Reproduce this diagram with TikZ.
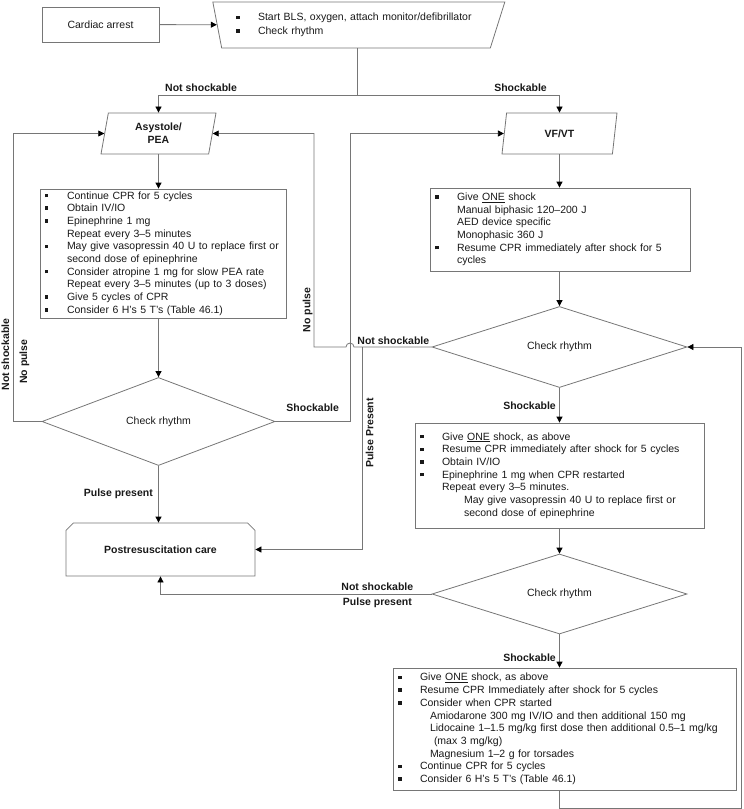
\documentclass[tikz,border=0pt]{standalone}
\usepackage{fontspec}
\setmainfont{Liberation Sans}
\usepackage{tikz}
\usetikzlibrary{
    shapes.geometric,
    shapes.misc,
    arrows.meta,
    positioning,
    calc
}
\definecolor{Cline}{RGB}{118, 118, 118}
\definecolor{Ctext}{RGB}{25, 25, 25}
\newcommand{\bul}{\makebox[22pt][l]{\rule[1.8pt]{3.5pt}{3.5pt}}}
\newcommand{\ind}{\hspace*{22pt}}
\tikzset{
    abox/.style={
        rectangle, draw=Cline, line width=0.8pt, fill=white, text=Ctext,
        align=left, font=\fontsize{10.5}{12.7}\selectfont,
        inner xsep=5pt, inner ysep=2pt
    },
    atrap/.style={
        trapezium, shape border rotate=180, trapezium stretches body,
        trapezium left angle=62, trapezium right angle=72,
        draw=Cline, line width=0.8pt, text=Ctext, align=left,
        minimum width=292pt, minimum height=46pt, text width=240pt,
        font=\fontsize{10.5}{13.5}\selectfont, inner sep=2pt
    },
    aio/.style={
        trapezium, trapezium stretches body, draw=Cline, line width=0.8pt,
        trapezium left angle=72, trapezium right angle=108,
        minimum width=115pt, minimum height=41pt, inner sep=1pt,
        align=center, text=Ctext, font=\bfseries\fontsize{10.5}{13}\selectfont
    },
    adec/.style={
        diamond, aspect=3, draw=Cline, line width=0.8pt, inner sep=0pt,
        text=Ctext, font=\fontsize{10.5}{12}\selectfont
    },
    aend/.style={
        chamfered rectangle, chamfered rectangle corners={north west, north east},
        chamfered rectangle xsep=14pt, draw=Cline, line width=0.8pt,
        minimum width=189pt, minimum height=53pt, inner sep=0pt,
        text=Ctext, font=\bfseries\fontsize{10.5}{12}\selectfont
    },
    alab/.style={text=Ctext, font=\bfseries\fontsize{10.5}{12}\selectfont},
    aarr/.style={-{Triangle[length=6pt, width=6pt, color=black]}, line width=0.8pt, Cline},
}

\begin{document}
\begin{tikzpicture}[x=1pt, y=-1pt]
    \useasboundingbox (0,0) rectangle (744,809);

    % ── start ──────────────────────────────────────────────
    \node [abox, align=center, minimum width=117pt, minimum height=35pt]
        (arrest) at (100.5,24.5) {Cardiac arrest};
    \node [atrap]
        (bls) at (356,25) {\bul Start BLS, oxygen, attach monitor/defibrillator\\ \bul Check rhythm};

    % ── not shockable side ────────────────────────────────
    \node [aio] (asys) at (158.5,133.5) {Asystole/\\PEA};
    \node [abox, text width=236pt, minimum height=129pt]
        (boxL) at (163,253.5) {%
        \bul Continue CPR for 5 cycles\\
        \bul Obtain IV/IO\\
        \bul Epinephrine 1 mg\\
        \ind Repeat every 3--5 minutes\\
        \bul May give vasopressin 40 U to replace first or\\
        \ind second dose of epinephrine\\
        \bul Consider atropine 1 mg for slow PEA rate\\
        \ind Repeat every 3--5 minutes (up to 3 doses)\\
        \bul Give 5 cycles of CPR\\
        \bul Consider 6 H's 5 T's (Table 46.1)};
    \node [adec, minimum width=233pt, minimum height=88pt]
        (chkL) at (158.5,421.5) {Check rhythm};
    \node [aend] (post) at (160.5,549.5) {Postresuscitation care};

    % ── shockable side ────────────────────────────────────
    \node [aio, trapezium left angle=65, trapezium right angle=115]
        (vf) at (559.5,133.5) {VF/VT};
    \node [abox, text width=250pt, minimum height=83pt]
        (boxA) at (560,229.5) {%
        \bul Give \underline{ONE} shock\\
        \ind Manual biphasic 120--200 J\\
        \ind AED device specific\\
        \ind Monophasic 360 J\\
        \bul Resume CPR immediately after shock for 5\\
        \ind cycles};
    \node [adec, minimum width=255pt, minimum height=81pt]
        (chkA) at (559.5,347) {Check rhythm};
    \node [abox, text width=279pt, minimum height=105pt]
        (boxB) at (559.5,475.5) {%
        \bul Give \underline{ONE} shock, as above\\
        \bul Resume CPR immediately after shock for 5 cycles\\
        \bul Obtain IV/IO\\
        \bul Epinephrine 1 mg when CPR restarted\\
        \ind Repeat every 3--5 minutes.\\
        \ind\ind May give vasopressin 40 U to replace first or\\
        \ind\ind second dose of epinephrine};
    \node [adec, minimum width=255pt, minimum height=80pt]
        (chkB) at (559.5,594) {Check rhythm};
    \node [abox, text width=333pt, minimum height=122pt]
        (boxC) at (564.5,729) {%
        \bul Give \underline{ONE} shock, as above\\
        \bul Resume CPR Immediately after shock for 5 cycles\\
        \bul Consider when CPR started\\
        \ind\hspace*{10pt}Amiodarone 300 mg IV/IO and then additional 150 mg\\
        \ind\hspace*{10pt}Lidocaine 1--1.5 mg/kg first dose then additional 0.5--1 mg/kg\\
        \ind\hspace*{14pt}(max 3 mg/kg)\\
        \ind\hspace*{10pt}Magnesium 1--2 g for torsades\\
        \bul Continue CPR for 5 cycles\\
        \bul Consider 6 H's 5 T's (Table 46.1)};

    % ── turning points ────────────────────────────────────
    \coordinate (split) at (357,95);
    \coordinate (jogL) at (13,0);
    \coordinate (jogN) at (314,0);
    \coordinate (jogS) at (350,0);
    \coordinate (jogP) at (362,0);
    \coordinate (loopR) at (741,808);

    % ── arrows ────────────────────────────────────────────
    \draw [aarr] (arrest) -- (bls);
    \draw [aarr, -] (bls.south -| split) -- (split);
    \draw [aarr] (split) -| node[alab, pos=0.5, anchor=south west, xshift=3pt] {Not shockable}
        (asys.center |- asys.north);
    \draw [aarr] (split) -| node[alab, pos=0.5, anchor=south east, xshift=-9pt] {Shockable}
        (vf.center |- vf.north);

    \draw [aarr] (asys.center |- asys.south) -- (asys.center |- boxL.north);
    \draw [aarr] (chkL.north |- boxL.south) -- (chkL);
    \draw [aarr] (chkL.west) -- (chkL.west -| jogL)
        |- node[alab, pos=0.116, rotate=90, above] {Not shockable}
           node[alab, pos=0.104, rotate=90, below, inner sep=6pt] {No pulse} (asys.west);
    \draw [aarr] (chkL.east) -- node[alab, above, yshift=6pt] {Shockable}
        (chkL.east -| jogS) |- (vf.west);
    \draw [aarr] (chkL) -- node[alab, left, xshift=-2pt] {Pulse present} (chkL.south |- post.north);

    \draw [aarr] (vf.center |- vf.south) -- (vf.center |- boxA.north);
    \draw [aarr] (chkA.north |- boxA.south) -- (chkA);
    \draw [aarr] (chkA.west) node[alab, above left, inner sep=2pt] {Not shockable}
        -- ($(chkA.west -| jogS)+(4,0)$) arc[start angle=0, end angle=-180, radius=4]
        -- (chkA.west -| jogN)
        |- node[alab, pos=0.087, rotate=90, above, inner sep=1pt] {No pulse} (asys.east);
    \draw [aarr] (chkA.west -| jogP)
        |- node[alab, pos=0.212, rotate=90, below] {Pulse Present} (post.east);
    \draw [aarr] (chkA) -- node[alab, left] {Shockable} (boxB);
    \draw [aarr] (boxB) -- (chkB);
    \draw [aarr] (chkB.west) -| node[alab, pos=0.1, above] {Not shockable}
        node[alab, pos=0.1, below] {Pulse present} (post.south);
    \draw [aarr] (chkB.south) -- node[alab, left, pos=0.7] {Shockable} (chkB.south |- boxC.north);
    \draw [aarr] (chkB.south |- boxC.south) |- (loopR) |- (chkA.east);

\end{tikzpicture}
\end{document}
